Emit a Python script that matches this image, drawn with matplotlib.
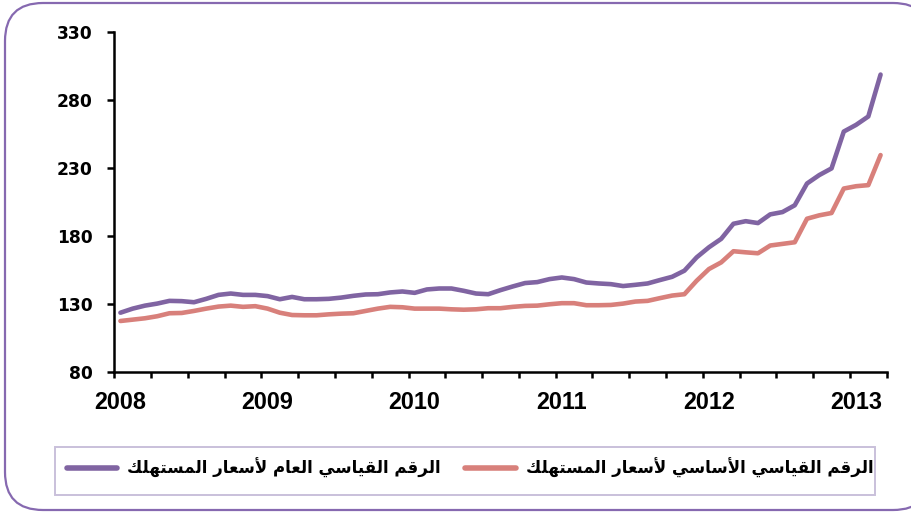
import matplotlib
matplotlib.use("Agg")
import matplotlib.pyplot as plt
from matplotlib.patches import FancyBboxPatch, Rectangle
from matplotlib.transforms import IdentityTransform
import numpy as np

# ---------------- data ----------------
years = ["2008", "2009", "2010", "2011", "2012", "2013"]
general_cpi = [123.6, 126.6, 128.8, 130.3, 132.3, 132.1, 131.3, 133.8, 136.7, 137.7, 136.7, 136.7,
               135.8, 133.5, 135.2, 133.5, 133.5, 133.8, 134.7, 136.0, 137.0, 137.2, 138.5, 139.2,
               138.2, 140.7, 141.4, 141.4, 139.7, 137.7, 137.2, 140.2, 142.9, 145.4, 146.1, 148.3,
               149.5, 148.3, 145.8, 145.1, 144.6, 143.2, 144.1, 145.1, 147.6, 150.0, 154.5, 164.3,
               171.7, 177.9, 189.0, 190.9, 189.5, 195.9, 197.6, 202.6, 218.6, 224.8, 229.7, 256.8,
               261.7, 267.9, 298.7]
core_cpi = [117.5, 118.5, 119.5, 121.0, 123.2, 123.4, 124.9, 126.6, 128.1, 128.8, 127.9, 128.4,
            126.6, 123.6, 121.9, 121.7, 121.7, 122.4, 122.9, 123.2, 124.9, 126.6, 127.9, 127.6,
            126.6, 126.6, 126.6, 126.1, 125.8, 126.1, 126.9, 126.9, 127.9, 128.6, 128.8, 129.8,
            130.6, 130.6, 129.1, 129.1, 129.3, 130.3, 131.8, 132.3, 134.3, 136.2, 137.2, 147.1,
            155.7, 160.6, 168.8, 168.0, 167.3, 173.0, 174.2, 175.4, 192.7, 195.2, 196.9, 214.9,
            216.6, 217.4, 239.5]
label_general = "الرقم القياسي العام لأسعار المستهلك"
label_core = "الرقم القياسي الأساسي لأسعار المستهلك"

# ------------- minimal Arabic shaping (presentation forms, visual order) -------------
FORMS = {
    '\u0627': ('\uFE8D', '\uFE8E', None, None),
    '\u0623': ('\uFE83', '\uFE84', None, None),
    '\u0631': ('\uFEAD', '\uFEAE', None, None),
    '\u0644': ('\uFEDD', '\uFEDE', '\uFEDF', '\uFEE0'),
    '\u0642': ('\uFED5', '\uFED6', '\uFED7', '\uFED8'),
    '\u0645': ('\uFEE1', '\uFEE2', '\uFEE3', '\uFEE4'),
    '\u064A': ('\uFEF1', '\uFEF2', '\uFEF3', '\uFEF4'),
    '\u0633': ('\uFEB1', '\uFEB2', '\uFEB3', '\uFEB4'),
    '\u0639': ('\uFEC9', '\uFECA', '\uFECB', '\uFECC'),
    '\u062A': ('\uFE95', '\uFE96', '\uFE97', '\uFE98'),
    '\u0647': ('\uFEE9', '\uFEEA', '\uFEEB', '\uFEEC'),
    '\u0643': ('\uFED9', '\uFEDA', '\uFEDB', '\uFEDC'),
    'LAH': ('\uFEF7', '\uFEF8', None, None),
    'LA': ('\uFEFB', '\uFEFC', None, None),
}


def shape(text):
    toks = []
    i = 0
    while i < len(text):
        c = text[i]
        if c == '\u0644' and i + 1 < len(text) and text[i + 1] in ('\u0623', '\u0627'):
            toks.append('LAH' if text[i + 1] == '\u0623' else 'LA')
            i += 2
        else:
            toks.append(c)
            i += 1
    out = []
    for k, c in enumerate(toks):
        if c not in FORMS:
            out.append(c)
            continue
        f = FORMS[c]
        prev = toks[k - 1] if k > 0 else None
        nxt = toks[k + 1] if k + 1 < len(toks) else None
        jp = prev in FORMS and FORMS[prev][2] is not None
        jn = nxt in FORMS and f[2] is not None
        if jp and jn:
            out.append(f[3])
        elif jp:
            out.append(f[1])
        elif jn:
            out.append(f[2])
        else:
            out.append(f[0])
    return ''.join(reversed(out))


# ---------------- figure ----------------
W, H = 912, 513
fig = plt.figure(figsize=(W / 100, H / 100), dpi=100)
fig.patch.set_facecolor("white")

# outer rounded border in pixel units (right edge runs past the picture);
# white fill under everything so the renderer does not clip the outline
border = FancyBboxPatch((5, 3), 926, 507,
                        boxstyle="round,pad=0,rounding_size=38",
                        transform=IdentityTransform(), facecolor="white",
                        edgecolor="#8669B0", linewidth=1.6, zorder=-5)
fig.patches.append(border)

# legend box
fig.patches.append(Rectangle((55 / W, 1 - 495 / H), 820 / W, 48 / H,
                             transform=fig.transFigure, facecolor="white",
                             edgecolor="#C9C0DA", linewidth=1.4))

ax = fig.add_axes([114.3 / W, 1 - 372 / H, (886.7 - 114.3) / W, (372 - 32) / H])

x = np.arange(len(general_cpi))
l1, = ax.plot(x, general_cpi, color="#8064A2", lw=3.3, solid_joinstyle="round",
              solid_capstyle="round")
l2, = ax.plot(x, core_cpi, color="#D8807B", lw=3.3, solid_joinstyle="round",
              solid_capstyle="round")

ax.set_xlim(-0.5, len(general_cpi) - 0.5)
ax.set_ylim(80, 330)
ax.set_yticks(np.arange(80, 331, 50))
ax.set_xticks(np.arange(-0.5, len(general_cpi), 3))
ax.set_xticklabels([])
ax.set_xticks([12 * k for k in range(len(years))], minor=True)
ax.set_xticklabels(years, minor=True)

for s in ["top", "right"]:
    ax.spines[s].set_visible(False)
for s in ["left", "bottom"]:
    ax.spines[s].set_linewidth(1.8)
    ax.spines[s].set_color("black")
ax.tick_params(axis="x", which="major", direction="out", length=4.5, width=1.8)
ax.tick_params(axis="x", which="minor", length=0, pad=14)
ax.tick_params(axis="y", direction="out", length=5, width=1.8, labelsize=12.3, pad=10.5)
for t in ax.get_xticklabels(minor=True):
    t.set_fontweight("bold")
    t.set_family("Liberation Sans")
    t.set_fontsize(16.8)
for t in ax.get_yticklabels():
    t.set_fontweight("bold")
    t.set_family("DejaVu Sans")

leg = fig.legend([l1, l2], [shape(label_general), shape(label_core)],
                 loc="center", bbox_to_anchor=(470 / W, 1 - 468 / H),
                 ncol=2, frameon=False,
                 handlelength=3.0, handletextpad=0.6, columnspacing=1.5,
                 borderaxespad=0, borderpad=0,
                 prop={"family": "DejaVu Sans", "weight": "bold", "size": 12})
for h in leg.legend_handles:
    h.set_linewidth(4)

fig.savefig("out.png", dpi=100, facecolor="white")
